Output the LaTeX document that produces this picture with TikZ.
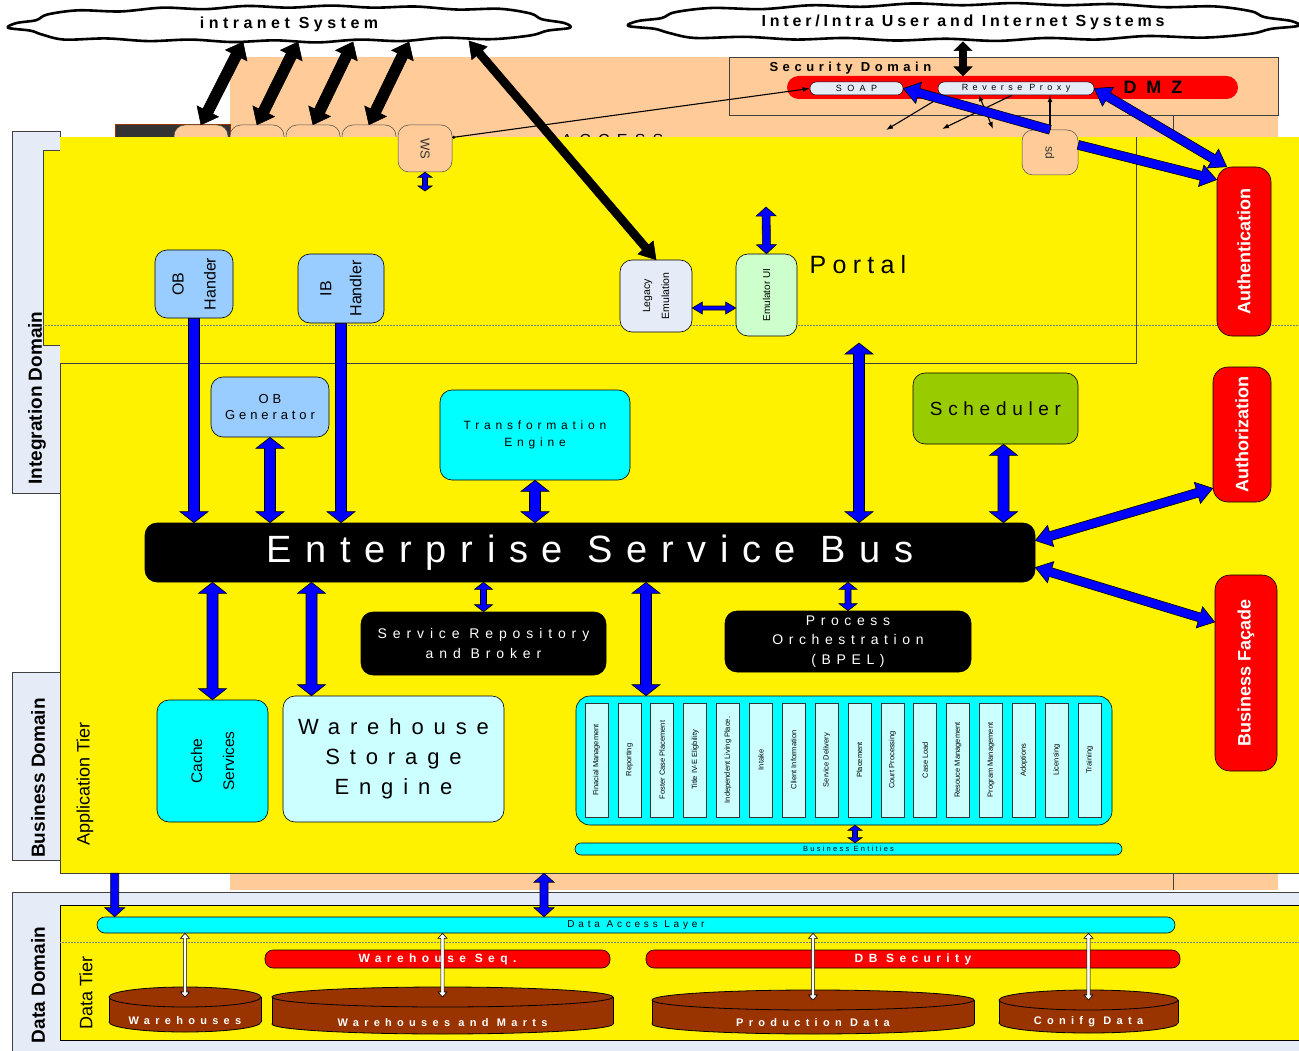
\documentclass[tikz,border=0pt]{standalone}
\usepackage{fontspec}
\setmainfont{Liberation Sans}
\usepackage{tikz}
\usetikzlibrary{calc, arrows.meta}

\definecolor{peach}{RGB}{255,204,153}
\definecolor{domainbg}{RGB}{230,236,247}
\definecolor{handler}{RGB}{153,204,255}
\definecolor{mint}{RGB}{204,255,204}
\definecolor{paleaqua}{RGB}{204,255,255}
\definecolor{aqua}{RGB}{0,255,255}
\definecolor{lime}{RGB}{153,204,0}
\definecolor{brick}{RGB}{153,51,0}
\definecolor{busblue}{RGB}{0,0,255}

\newcommand\sized[2]{\fontsize{#1}{#2}\selectfont}
\newcommand\spaced[1]{\addfontfeature{LetterSpace=#1}}

% block arrow, head at the far end
\newcommand\blockarrow[3]{%
  \path[#1] (#2) coordinate (ba) (#3) coordinate (bb) ($(bb)!\al!(ba)$) coordinate (bh);
  \filldraw[#1] ($(ba)!\aw!90:(bb)$) -- ($(bh)!\aw!-90:(ba)$) -- ($(bh)!\ah!-90:(ba)$) -- (bb)
    -- ($(bh)!\ah!90:(ba)$) -- ($(bh)!\aw!90:(ba)$) -- ($(ba)!\aw!-90:(bb)$) -- cycle;}
% block arrow, heads at both ends
\newcommand\blockdarrow[3]{%
  \path[#1] (#2) coordinate (ba) (#3) coordinate (bb) ($(bb)!\al!(ba)$) coordinate (bh) ($(ba)!\al!(bb)$) coordinate (bt);
  \filldraw[#1] (ba) -- ($(bt)!\ah!90:(bb)$) -- ($(bt)!\aw!90:(bb)$) -- ($(bh)!\aw!-90:(ba)$) -- ($(bh)!\ah!-90:(ba)$) -- (bb)
    -- ($(bh)!\ah!90:(ba)$) -- ($(bh)!\aw!90:(ba)$) -- ($(bt)!\aw!-90:(bb)$) -- ($(bt)!\ah!-90:(bb)$) -- cycle;}
% database drum
\newcommand\dbcyl[6]{%
  \filldraw[drum] (#2,#4-10) ellipse [x radius=#5pt, y radius=10pt];
  \fill[brick] (#2-#5,#3+10) rectangle (#2+#5,#4-10);
  \draw[line width=0.8pt] (#2-#5,#3+10) -- (#2-#5,#4-10) (#2+#5,#3+10) -- (#2+#5,#4-10);
  \filldraw[drum] (#2,#3+10) ellipse [x radius=#5pt, y radius=10pt];
  \coordinate (#1top) at (#2,#3+10);
  \node[dblabel] (#1) at (#2,#4-11) {#6};}
% long flat cloud outline
\newcommand\cloudpath[4]{%
  \begin{scope}[shift={(#1,#2)}, xscale=#3, yscale=#4]
    \filldraw[fill=white, draw=black, line width=2.6pt, line join=round]
      plot[smooth cycle, tension=0.55] coordinates {(-1,0.2) (-0.97,-0.05) (-0.9,-0.2) (-0.86,-0.5)
        (-0.75,-0.72) (-0.6,-0.66) (-0.45,-0.86) (-0.3,-0.78) (-0.15,-0.95) (0,-0.86) (0.15,-0.97)
        (0.3,-0.86) (0.45,-0.92) (0.6,-0.76) (0.75,-0.8) (0.86,-0.55) (0.9,-0.25) (0.98,-0.05)
        (1,0.2) (0.92,0.35) (0.86,0.6) (0.72,0.8) (0.55,0.72) (0.4,0.9) (0.25,0.82) (0.1,0.97)
        (-0.05,0.86) (-0.2,0.95) (-0.35,0.82) (-0.5,0.9) (-0.65,0.76) (-0.8,0.82) (-0.88,0.55) (-0.92,0.35)};
  \end{scope}}

\begin{document}
\begin{tikzpicture}[x=1pt, y=-1pt,
    edge/.style={draw=black!75, line width=0.6pt},
    box/.style={rectangle, rounded corners=12pt, draw=black, line width=0.6pt, inner sep=0pt, align=center},
    proxy/.style={rectangle, rounded corners=6pt, draw=black, line width=0.5pt, fill=domainbg, inner sep=0pt, minimum height=13pt, font=\sized{9}{10}\spaced{50}},
    bar/.style={rectangle, rounded corners=8pt, draw=black, line width=0.6pt, inner sep=0pt},
    tab/.style={rectangle, rounded corners=11pt, draw=black!70, line width=0.5pt, fill=peach, inner sep=0pt, minimum width=54pt, minimum height=47pt},
    cloudtxt/.style={rectangle, inner sep=0pt, font=\bfseries\sized{16}{18}\spaced{28}},
    sidelabel/.style={rotate=90, font=\bfseries\sized{19}{22}},
    tierlabel/.style={rotate=90, font=\sized{18}{20}},
    redbox/.style={box, fill=red, rounded corners=15pt},
    redtext/.style={rotate=90, text=white, font=\bfseries\sized{18}{20}},
    module/.style={rectangle, draw=black!80, line width=0.6pt, fill=paleaqua, inner sep=0pt, minimum width=23pt, minimum height=114pt},
    modtext/.style={rotate=90, font=\sized{7.5}{9}},
    drum/.style={fill=brick, draw=black, line width=0.8pt},
    dblabel/.style={text=white, font=\bfseries\sized{11}{13}\spaced{48}},
    thinarrow/.style={-{Latex[length=7pt, width=5pt]}, line width=1.1pt},
    tip size/.style n args={3}{/utils/exec={\def\aw{#1}\def\ah{#2}\def\al{#3}}},
    blueblock/.style={fill=busblue, draw=black, line width=0.6pt},
    bigblue/.style={blueblock, tip size={5.5pt}{14pt}{11pt}},
    diagblue/.style={blueblock, tip size={4.5pt}{11pt}{16pt}},
    midblue/.style={blueblock, tip size={4pt}{10pt}{9pt}},
    smallblue/.style={blueblock, tip size={3pt}{9pt}{7pt}},
    tinyblue/.style={blueblock, tip size={2.5pt}{7pt}{5pt}},
    slimblue/.style={blueblock, tip size={2pt}{6pt}{10pt}},
    blackblock/.style={fill=black, draw=black, line width=0.6pt, tip size={5.5pt}{12pt}{15pt}},
    hollow/.style={fill=white, draw=black, line width=0.6pt, tip size={1.6pt}{4.5pt}{5pt}}
]
\useasboundingbox (0,0) rectangle (1299,1051);

% peach backdrop with the security zone
\fill[peach] (230,57) rectangle (1278,890);
\draw[edge] (729,57) rectangle (1278,115);
\draw[edge] (1173,115) -- (1173,890);
\node[anchor=west, font=\bfseries\sized{13}{15}\spaced{35}] (secdom) at (766,68) {Security Domain};
\node[fill=red, rounded corners=11.5pt, inner sep=0pt, minimum width=451pt, minimum height=23pt] (dmz) at (1012.5,87.5) {};
\node[proxy, minimum width=93pt, font=\sized{9}{10}\spaced{60}] (soap) at (856.5,88.5) {SOAP};
\node[proxy, minimum width=156pt] (rproxy) at (1016,88.5) {Reverse Proxy};
\node[font=\bfseries\sized{18}{20}\spaced{55}] (dmztxt) at (1153,87) {DMZ};
\node[anchor=base west, font=\sized{16}{18}\spaced{45}] (access) at (558,146) {ACCESS};

% gateway tabs
\filldraw[fill=black!80, draw=brick, line width=1pt] (115,125) rectangle (230,150);
\foreach \x [count=\i] in {201,257,313,369}
  \node[tab] (t\i) at (\x,148.5) {};

% domains
\filldraw[fill=domainbg, edge] (12,131) rectangle (60,493);
\filldraw[fill=domainbg, edge] (12,672) rectangle (60,860);
\filldraw[fill=domainbg, edge] (12,892) rectangle (1310,1062);

% yellow tiers
\fill[yellow] (60,137) rectangle (1299,363);
\node[fill=yellow, inner sep=0pt, minimum width=1239pt, minimum height=510pt] (apptier) at (679.5,618) {};
\fill[yellow] (43,150) rectangle (60,345);
\draw[edge] (60,150) -- (43,150) -- (43,345) -- (60,345);
\draw[edge] (60,363) -- (1136,363) -- (1136,137);
\draw[edge] (apptier.north west) -- (apptier.south west) -- (apptier.south east);
\draw[gray, densely dotted, line width=0.5pt] (43,325) -- (1299,325);
\node[fill=yellow, draw=black, line width=0.8pt, inner sep=0pt, minimum width=1239pt, minimum height=135pt] (datatier) at (679.5,972.5) {};
\draw[gray, densely dotted, line width=0.5pt] (60,942) -- (1299,942);

\node[sidelabel] (intdom) at (37,398) {Integration Domain};
\node[sidelabel] (busdom) at (38,778) {Business Domain};
\node[sidelabel] (datadom) at (38,985) {Data Domain};
\node[tierlabel] (apptxt) at (85,784) {Application Tier};
\node[tierlabel] (datatxt) at (86,993) {Data Tier};

% portal
\node[tab, minimum height=47pt] (ws) at (425,148.5) {};
\node[rotate=-90, text=black!80, font=\sized{13}{15}] (wstxt) at (ws) {WS};
\node[tab, minimum width=56pt, minimum height=45pt] (sd) at (1050,152.5) {};
\node[rotate=-90, text=black!80, font=\sized{12}{14}] (sdtxt) at (sd) {sd};
\node[font=\sized{25}{28}\spaced{25}] (portal) at (858,265) {Portal};
\node[box, fill=handler, minimum width=78pt, minimum height=68pt] (obh) at (194,284) {};
\node[rotate=90, align=center, font=\sized{16}{32}] (obhtxt) at (obh) {OB\\Hander};
\node[box, fill=handler, minimum width=86pt, minimum height=69pt] (ibh) at (341,288.5) {};
\node[rotate=90, align=center, font=\sized{16}{30}] (ibhtxt) at (ibh) {IB\\Handler};
\node[box, fill=domainbg, minimum width=72pt, minimum height=72pt] (legacy) at (656,296) {};
\node[rotate=90, align=center, font=\sized{10.5}{19}] (legacytxt) at (legacy) {Legacy\\Emulation};
\node[box, fill=mint, minimum width=61pt, minimum height=82pt] (emui) at (766.5,295) {};
\node[rotate=90, font=\sized{10}{12}] (emuitxt) at (emui) {Emulator UI};

% security services
\node[redbox, minimum width=54pt, minimum height=169pt] (auth) at (1244,251.5) {};
\node[redtext] (authtxt) at (auth) {Authentication};
\node[redbox, minimum width=58pt, minimum height=135pt] (authz) at (1242,434.5) {};
\node[redtext] (authztxt) at (authz) {Authorization};
\node[redbox, minimum width=62pt, minimum height=196pt] (facade) at (1246,673) {};
\node[redtext] (facadetxt) at (facade) {Business Façade};

% application tier
\node[box, fill=handler, minimum width=118pt, minimum height=60pt, font=\sized{13}{16}\spaced{30}] (obgen) at (270,407) {OB\\Generator};
\node[box, fill=aqua, minimum width=190pt, minimum height=90pt, font=\sized{12}{17}\spaced{40}] (trans) at (535,435) {Transformation\\Engine};
\node[box, fill=lime, minimum width=165pt, minimum height=71pt, font=\sized{19}{22}\spaced{30}] (sched) at (995.5,408.5) {Scheduler};
\node[box, fill=black, text=white, minimum width=890pt, minimum height=59pt, font=\sized{38}{44}\spaced{36}] (esb) at (590,552.5) {Enterprise Service Bus};
\node[box, fill=black, text=white, minimum width=245pt, minimum height=63pt, font=\sized{14}{20}\spaced{42}] (repo) at (483.5,643.5) {Service Repository\\and Broker};
\node[box, fill=black, text=white, minimum width=246pt, minimum height=61pt, font=\sized{14}{19.5}\spaced{40}] (bpel) at (848,641.5) {Process\\Orchestration\\(BPEL)};
\node[box, fill=aqua, minimum width=111pt, minimum height=122pt] (cache) at (212.5,761) {};
\node[rotate=90, align=center, font=\sized{15.5}{32}] (cachetxt) at (cache) {Cache\\Services};
\node[box, fill=paleaqua, minimum width=221pt, minimum height=126pt, font=\sized{22}{30}\spaced{45}] (wse) at (393.5,759) {Warehouse\\Storage\\Engine};
\node[box, fill=aqua, rounded corners=14pt, minimum width=536pt, minimum height=129pt] (mods) at (844,760.5) {};
\foreach \lbl [count=\i from 0] in {Finacial Management, Reporting, Foster Case Placement, Title IV-E Eligbility,
    Independent Living Place., Intake, Client Information, Service Delivery, Placement, Court Processing,
    Case Load, Resouce Management, Program Management, Adoptions, Licensing, Training}{
  \node[module] (mod\i) at ({596.5+32.87*\i},760) {};
  \node[modtext] (modtxt\i) at (mod\i) {\lbl};
}
\node[bar, fill=aqua, rounded corners=6pt, minimum width=547pt, minimum height=12pt, font=\sized{7.5}{8}\spaced{30}] (entities) at (848.5,849) {Business Entities};

% data tier
\node[bar, fill=aqua, minimum width=1078pt, minimum height=16pt, font=\sized{10}{11}\spaced{38}] (dal) at (636,925) {Data Access Layer};
\node[bar, fill=red, text=white, minimum width=345pt, minimum height=18pt, font=\bfseries\sized{12}{13}\spaced{45}] (seq) at (437.5,959) {Warehouse Seq.};
\node[bar, fill=red, text=white, minimum width=534pt, minimum height=18pt, font=\bfseries\sized{12}{13}\spaced{45}] (dbsec) at (913,959) {DB Security};
\dbcyl{wh}{185}{987}{1032}{76}{Warehouses}
\dbcyl{whm}{442.5}{987}{1034}{170.5}{Warehouses and Marts}
\dbcyl{prod}{813}{990}{1034}{161}{Production Data}
\dbcyl{conf}{1088.5}{990}{1033}{89.5}{Conifg Data}

% outside systems
\cloudpath{289}{24}{281}{19}
\node[cloudtxt, minimum width=562pt, minimum height=38pt] (intranet) at (289,24) {intranet System};
\cloudpath{963}{22}{335}{19.5}
\node[cloudtxt, minimum width=670pt, minimum height=39pt, font=\bfseries\sized{16}{18}\spaced{24}] (inter) at (963,22) {Inter/Intra User and Internet Systems};

% black links from the intranet
\coordinate (ia1) at (243,42);
\coordinate (ia2) at (298,42);
\coordinate (ia3) at (353,42);
\coordinate (ia4) at (409,42);
\coordinate (ia5) at (469,41);
\blockdarrow{blackblock}{ia1}{t1.north}
\blockdarrow{blackblock}{ia2}{t2.north}
\blockdarrow{blackblock}{ia3}{t3.north}
\blockdarrow{blackblock}{ia4}{t4.north}
\blockdarrow{blackblock, tip size={4pt}{10pt}{16pt}}{ia5}{legacy.north}
\blockdarrow{blackblock, tip size={3.5pt}{9pt}{9pt}}{inter.south}{inter.south |- dmz.north}
\draw[thinarrow, {Circle[length=3pt]}-{Latex[length=7pt, width=5pt]}] (ws.22) -- (soap.west);

% proxy fan-out
\coordinate (rp1) at (886,130);
\coordinate (rp2) at (942,129);
\coordinate (rp3) at (993,129);
\draw[thinarrow] ([xshift=6pt]rproxy.south west) -- (rp1);
\draw[thinarrow] ([xshift=-4pt]rproxy.south) -- (rp2);
\draw[thinarrow, {Latex[length=6pt, width=5pt]}-{Latex[length=7pt, width=5pt]}] ([xshift=-37pt]rproxy.south) -- (rp3);
\draw[thinarrow] (sd.north) -- (sd.north |- rproxy.south);

% blue links
\blockarrow{diagblue}{sd.north}{soap.east}
\blockarrow{diagblue}{sd.15}{[yshift=-13pt]auth.north west}
\blockdarrow{diagblue}{rproxy.east}{[xshift=10pt]auth.north west}
\blockdarrow{diagblue}{[yshift=12pt]esb.east}{[yshift=14pt]authz.south west}
\blockdarrow{diagblue}{[yshift=-15pt]esb.east}{[yshift=51pt]facade.west}

\coordinate (wsbelow) at (425,191);
\blockdarrow{tinyblue}{ws.south}{wsbelow}
\coordinate (emutop) at (766,207);
\blockdarrow{midblue}{emutop}{emui.north}
\coordinate (legport) at ([yshift=-12pt]legacy.east);
\blockdarrow{slimblue}{legport}{legport -| emui.west}
\coordinate (portalin) at (859,343);
\blockdarrow{bigblue}{portalin |- esb.north}{portalin}

\blockarrow{bigblue}{obh.south}{obh.south |- esb.north}
\blockarrow{bigblue}{ibh.south}{ibh.south |- esb.north}
\blockdarrow{bigblue}{obgen.south}{obgen.south |- esb.north}
\blockdarrow{bigblue}{trans.south}{trans.south |- esb.north}
\coordinate (schedfoot) at ([xshift=8pt]sched.south);
\blockdarrow{bigblue}{schedfoot}{schedfoot |- esb.north}

\blockdarrow{bigblue}{cache.north |- esb.south}{cache.north}
\coordinate (wsetop) at ([xshift=-82pt]wse.north);
\blockdarrow{bigblue}{wsetop |- esb.south}{wsetop}
\blockdarrow{smallblue}{repo.north |- esb.south}{repo.north}
\coordinate (modtop) at ([xshift=-198pt]mods.north);
\blockdarrow{bigblue}{modtop |- esb.south}{modtop}
\blockdarrow{smallblue}{bpel.north |- esb.south}{bpel.north}
\coordinate (entlink) at ([xshift=11pt]mods.south);
\blockdarrow{tinyblue}{entlink}{entlink |- entities.north}

\coordinate (dalleft) at ([xshift=18pt]dal.north west);
\blockarrow{midblue}{dalleft |- apptier.south}{dalleft}
\coordinate (dalmid) at ([xshift=-92pt]dal.north);
\blockdarrow{midblue}{dalmid |- apptier.south}{dalmid}

% data links
\blockdarrow{hollow}{whtop |- dal.south}{whtop}
\blockdarrow{hollow}{whmtop |- dal.south}{whmtop}
\blockdarrow{hollow}{prodtop |- dal.south}{prodtop}
\blockdarrow{hollow}{conftop |- dal.south}{conftop}
\end{tikzpicture}
\end{document}
